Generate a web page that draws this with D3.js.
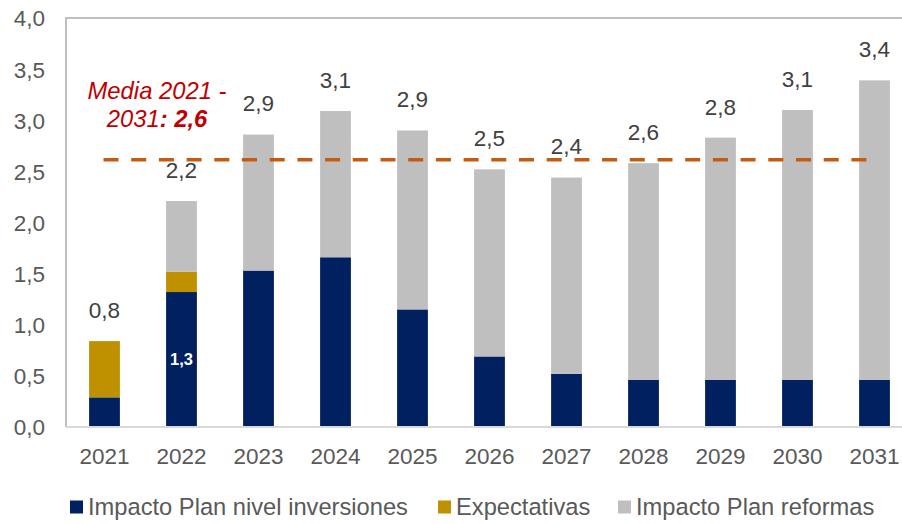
<!DOCTYPE html>
<html>
<head>
<meta charset="utf-8">
<script src="https://cdn.jsdelivr.net/npm/d3@7"></script>
<style>
  html, body { margin: 0; padding: 0; background: #fff; }
  svg { display: block; font-family: "Liberation Sans", Arial, sans-serif; }
</style>
</head>
<body>
<svg id="chart" width="902" height="524"></svg>
<script>
// Years and stacked components (puntos porcentuales)
const years = ["2021","2022","2023","2024","2025","2026","2027","2028","2029","2030","2031"];
const inversiones = [0.29, 1.32, 1.53, 1.66, 1.15, 0.69, 0.52, 0.46, 0.46, 0.46, 0.46];
const expectativas = [0.55, 0.20, 0, 0, 0, 0, 0, 0, 0, 0, 0];
const reformas = [0, 0.69, 1.33, 1.43, 1.75, 1.83, 1.92, 2.12, 2.37, 2.64, 2.93];
const yTicks = [0, 0.5, 1, 1.5, 2, 2.5, 3, 3.5, 4];
const seriesNames = ["Impacto Plan nivel inversiones", "Expectativas", "Impacto Plan reformas"];
const seriesColors = ["#002060", "#BF9000", "#BFBFBF"];
// Year whose investment segment carries its own value label
const innerLabelYears = ["2022"];

const fmt = v => (Math.round(v * 10) / 10).toFixed(1).replace(".", ",");

const svg = d3.select("#chart");
const plot = { left: 66, top: 18, width: 847, bottom: 427 };

const x = d3.scaleBand().domain(years)
  .range([plot.left, plot.left + plot.width])
  .paddingInner(0.6).paddingOuter(0.3);
const y = d3.scaleLinear().domain([0, 4]).range([plot.bottom, plot.top]);

const rows = years.map((yr, i) => ({
  year: yr, inv: inversiones[i], exp: expectativas[i], ref: reformas[i]
}));
const keys = ["inv", "exp", "ref"];
const stacked = d3.stack().keys(keys)(rows);
const totals = rows.map(r => r.inv + r.exp + r.ref);
const mean = d3.mean(totals);

// Frame of the plot area
svg.append("path")
  .attr("d", `M${plot.left},${plot.bottom} V${plot.top} H902`)
  .attr("fill", "none").attr("stroke", "#BFBFBF").attr("stroke-width", 2);

// Y axis labels
const yAxis = d3.axisLeft(y).tickValues(yTicks).tickFormat(fmt).tickSize(0).tickPadding(0);
const gy = svg.append("g").attr("transform", "translate(45,0)").call(yAxis);
gy.select(".domain").remove();
gy.selectAll("text").attr("font-size", 22.5).attr("fill", "#595959")
  .attr("font-family", "Liberation Sans, Arial, sans-serif").attr("dy", "0.35em");

// Bars
svg.append("g").selectAll("g").data(stacked).join("g")
  .attr("fill", (d, i) => seriesColors[i])
  .selectAll("rect").data(d => d).join("rect")
  .attr("x", d => x(d.data.year))
  .attr("width", x.bandwidth())
  .attr("y", d => y(d[1]))
  .attr("height", d => y(d[0]) - y(d[1]));

// Category axis line and labels
svg.append("line")
  .attr("x1", plot.left).attr("x2", 902)
  .attr("y1", plot.bottom).attr("y2", plot.bottom)
  .attr("stroke", "#D9D9D9").attr("stroke-width", 2);
const xAxis = d3.axisBottom(x).tickSize(0).tickPadding(0);
const gx = svg.append("g").attr("transform", `translate(0,${plot.bottom})`).call(xAxis);
gx.select(".domain").remove();
gx.selectAll("text").attr("font-size", 22.5).attr("fill", "#595959")
  .attr("font-family", "Liberation Sans, Arial, sans-serif")
  .attr("y", 29).attr("dy", "0.35em");

// Totals above bars
svg.append("g").selectAll("text").data(rows).join("text")
  .attr("x", d => x(d.year) + x.bandwidth() / 2)
  .attr("y", (d, i) => y(totals[i]) - 31)
  .attr("dy", "0.35em")
  .attr("text-anchor", "middle")
  .attr("font-size", 22.5).attr("fill", "#404040")
  .text((d, i) => fmt(totals[i]));

// Value inside the investment segment
svg.append("g").selectAll("text").data(rows.filter(r => innerLabelYears.includes(r.year))).join("text")
  .attr("x", d => x(d.year) + x.bandwidth() / 2)
  .attr("y", d => (y(0) + y(d.inv)) / 2)
  .attr("dy", "0.35em")
  .attr("text-anchor", "middle")
  .attr("font-size", 16.5).attr("font-weight", "bold").attr("fill", "#FFFFFF")
  .text(d => fmt(d.inv));

// Mean line
svg.append("line")
  .attr("x1", x(years[0]) + x.bandwidth() / 2 - 1)
  .attr("x2", x(years[years.length - 1]) + x.bandwidth() / 2)
  .attr("y1", y(mean)).attr("y2", y(mean))
  .attr("stroke", "#C55A11").attr("stroke-width", 3.5)
  .attr("stroke-dasharray", "15,12.7").attr("stroke-linecap", "butt");

// Mean annotation
const note = svg.append("g").attr("font-size", 23.8).attr("font-style", "italic").attr("fill", "#C00000")
  .attr("text-anchor", "middle");
note.append("text").attr("x", 157).attr("y", 91).attr("dy", "0.35em").text("Media 2021 -");
const l2 = note.append("text").attr("x", 157).attr("y", 119).attr("dy", "0.35em");
l2.append("tspan").text("2031");
l2.append("tspan").attr("font-weight", "bold").text(": " + fmt(mean));

// Legend
const legendPos = [70, 438, 618];
const lg = svg.append("g").selectAll("g").data(seriesNames).join("g")
  .attr("transform", (d, i) => `translate(${legendPos[i]},507)`);
lg.append("rect").attr("x", 0).attr("y", -6.5).attr("width", 13).attr("height", 13)
  .attr("fill", (d, i) => seriesColors[i]);
lg.append("text").attr("x", 18).attr("y", 0).attr("dy", "0.35em")
  .attr("font-size", 23.7).attr("fill", "#595959").text(d => d);
</script>
</body>
</html>
